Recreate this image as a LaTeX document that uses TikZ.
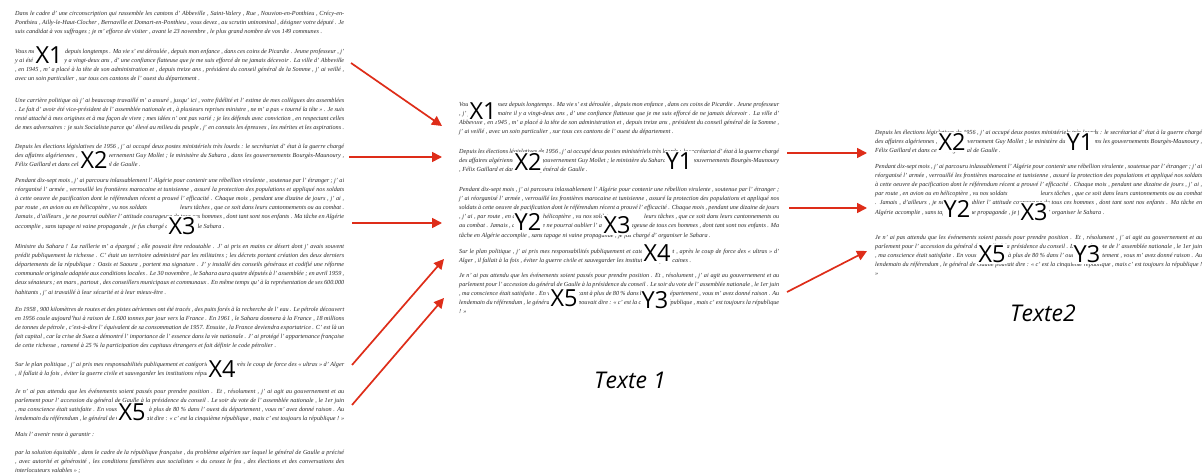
\documentclass[tikz,border=0pt]{standalone}
\usepackage{fontspec}
\setmainfont{Liberation Serif}
\newfontfamily\labfont{Open Sans}
\usetikzlibrary{arrows.meta}
\definecolor{arr}{RGB}{222,45,25}
\tikzset{
  para/.style={anchor=north west, inner sep=0pt, text width=#1, align=justify,
    font=\fontsize{6.2}{9.1}\selectfont\itshape, text=black!85},
  para/.default=329pt,
  lbl/.style={fill=white, inner sep=1.2pt, font=\labfont\fontsize{23.5}{23.5}\selectfont},
  ttl/.style={font=\labfont\itshape\fontsize{23}{23}\selectfont},
  redarrow/.style={draw=arr, line width=1.7pt, -{Triangle[length=10pt,width=10pt]}}
}
\newcommand{\pVous}{Vous me connaissez depuis longtemps . Ma vie s' est déroulée , depuis mon enfance , dans ces coins de Picardie . Jeune professeur , j' y ai été élu maire il y a vingt-deux ans , d' une confiance flatteuse que je me suis efforcé de ne jamais décevoir . La ville d' Abbeville , en 1945 , m' a placé à la tête de son administration et , depuis treize ans , président du conseil général de la Somme , j' ai veillé , avec un soin particulier , sur tous ces cantons de l' ouest du département .}
\newcommand{\pDepuis}{Depuis les élections législatives de 1956 , j' ai occupé deux postes ministériels très lourds : le secrétariat d' état à la guerre chargé des affaires algériennes , dans le gouvernement Guy Mollet ; le ministère du Sahara , dans les gouvernements Bourgès-Maunoury , Félix Gaillard et dans celui du général de Gaulle .}
\newcommand{\pPendant}{Pendant dix-sept mois , j' ai parcouru inlassablement l' Algérie pour contenir une rébellion virulente , soutenue par l' étranger ; j' ai réorganisé l' armée , verrouillé les frontières marocaine et tunisienne , assuré la protection des populations et appliqué nos soldats à cette oeuvre de pacification dont le référendum récent a prouvé l' efficacité . Chaque mois , pendant une dizaine de jours , j' ai , par route , en avion ou en hélicoptère , vu nos soldats \hspace{30pt} leurs tâches , que ce soit dans leurs cantonnements ou au combat . Jamais , d'ailleurs , je ne pourrai oublier l' attitude courageuse de tous ces hommes , dont tant sont nos enfants . Ma tâche en Algérie accomplie , sans tapage ni vaine propagande , je fus chargé d' organiser le Sahara .}
\newcommand{\pSur}{Sur le plan politique , j' ai pris mes responsabilités publiquement et catégoriquement , après le coup de force des « ultras » d' Alger , il fallait à la fois , éviter la guerre civile et sauvegarder les institutions républicaines .}
\newcommand{\pJe}{Je n' ai pas attendu que les événements soient passés pour prendre position . Et , résolument , j' ai agit au gouvernement et au parlement pour l' accession du général de Gaulle à la présidence du conseil . Le soir du vote de l' assemblée nationale , le 1er juin , ma conscience était satisfaite . En vous prononçant à plus de 80 \% dans l' ouest du département , vous m' avez donné raison . Au lendemain du référendum , le général de Gaulle pouvait dire : « c' est la cinquième république , mais c' est toujours la république ! »}
\begin{document}
\begin{tikzpicture}[x=1pt,y=-1pt]
\useasboundingbox (0,0) rectangle (1203,473);
\fill[white] (0,0) rectangle (1203,473);

% ---------- column 1 ----------
\node[para] (c1p1) at (15,11) {Dans le cadre d' une circonscription qui rassemble les cantons d' Abbeville , Saint-Valery , Rue , Nouvion-en-Ponthieu , Crécy-en-Ponthieu , Ailly-le-Haut-Clocher , Bernaville et Domart-en-Ponthieu , vous devez , au scrutin uninominal , désigner votre député . Je suis candidat à vos suffrages ; je m' efforce de visiter , avant le 23 novembre , le plus grand nombre de vos 149 communes .};
\node[para] (c1p2) at (15,49) {\pVous};
\node[para] (c1p3) at (15,98) {Une carrière politique où j' ai beaucoup travaillé m' a assuré , jusqu' ici , votre fidélité et l' estime de mes collègues des assemblées . Le fait d' avoir été vice-président de l' assemblée nationale et , à plusieurs reprises ministre , ne m' a pas « tourné la tête » . Je suis resté attaché à mes origines et à ma façon de vivre ; mes idées n' ont pas varié ; je les défends avec conviction , en respectant celles de mes adversaires : je suis Socialiste parce qu' élevé au milieu du peuple , j' en connais les épreuves , les mérites et les aspirations .};
\node[para] (c1p4) at (15,144) {\pDepuis};
\node[para] (c1p5) at (15,178) {\pPendant};
\node[para] (c1p6) at (15,244) {Ministre du Sahara ! La raillerie m' a épargné ; elle pouvait être redoutable . J' ai pris en mains ce désert dont j' avais souvent prédit publiquement la richesse . C' était un territoire administré par les militaires ; les décrets portant création des deux derniers départements de la république : Oasis et Saoura , portent ma signature . J' y installé des conseils généraux et codifié une réforme communale originale adaptée aux conditions locales . Le 30 novembre , le Sahara aura quatre députés à l' assemblée ; en avril 1959 , deux sénateurs ; en mars , partout , des conseillers municipaux et communaux . En même temps qu' à la représentation de ses 600.000 habitants , j' ai travaillé à leur sécurité et à leur mieux-être .};
\node[para] (c1p7) at (15,307) {En 1958 , 900 kilomètres de routes et des pistes aériennes ont été tracés , des puits forés à la recherche de l' eau . Le pétrole découvert en 1956 coule aujourd'hui à raison de 1.600 tonnes par jour vers la France . En 1961 , le Sahara donnera à la France , 18 millions de tonnes de pétrole , c'est-à-dire l' équivalent de sa consommation de 1957. Ensuite , la France deviendra exportatrice . C' est là un fait capital , car la crise de Suez a démontré l' importance de l' essence dans la vie nationale . J' ai protégé l' appartenance française de cette richesse , ramené à 25 \% la participation des capitaux étrangers et fait définir le code pétrolier .};
\node[para] (c1p8) at (15,362) {\pSur};
\node[para] (c1p9) at (15,389) {\pJe};
\node[para] (c1p10) at (15,432) {Mais l' avenir reste à garantir :};
\node[para] (c1p11) at (15,450) {par la solution équitable , dans le cadre de la république française , du problème algérien sur lequel le général de Gaulle a précisé , avec autorité et générosité , les conditions familières aux socialistes « du cessez le feu , des élections et des conversations des interlocuteurs valables » ;};

\node[lbl] (c1x1) at (49,55) {X1};
\node[lbl] (c1x2) at (94,160) {X2};
\node[lbl] (c1x3) at (182,226) {X3};
\node[lbl] (c1x4) at (222,369) {X4};
\node[lbl] (c1x5) at (132,412) {X5};

% ---------- column 2 ----------
\node[para=320pt] (c2p2) at (459,102) {\pVous};
\node[para=320pt] (c2p4) at (459,149) {\pDepuis};
\node[para=320pt] (c2p5) at (459,187) {\pPendant};
\node[para=320pt] (c2p8) at (459,249) {\pSur};
\node[para=320pt] (c2p9) at (459,273) {\pJe};

\node[lbl] (c2x1) at (483,111) {X1};
\node[lbl] (c2x2) at (528,162) {X2};
\node[lbl] (c2y1) at (679,161) {Y1};
\node[lbl] (c2y2) at (528,222) {Y2};
\node[lbl] (c2x3) at (617,225) {X3};
\node[lbl] (c2x4) at (657,253) {X4};
\node[lbl] (c2x5) at (564,298) {X5};
\node[lbl] (c2y3) at (655,300) {Y3};
\node[ttl] (t1) at (630,380) {Texte 1};

% ---------- column 3 ----------
\node[para=327pt] (c3p4) at (875,130) {\pDepuis};
\node[para=327pt] (c3p5) at (875,164) {\pPendant};
\node[para=327pt] (c3p9) at (875,235) {\pJe};

\node[lbl] (c3x2) at (952,142) {X2};
\node[lbl] (c3y1) at (1080,142) {Y1};
\node[lbl] (c3y2) at (957,209) {Y2};
\node[lbl] (c3x3) at (1034,212) {X3};
\node[lbl] (c3x5) at (992,254) {X5};
\node[lbl] (c3y3) at (1087,254) {Y3};
\node[ttl] (t2) at (1043,313) {Texte2};

% ---------- arrows ----------
\coordinate (a1s) at (351,63);  \coordinate (a1e) at (442,126);
\coordinate (a2s) at (349,157); \coordinate (a2e) at (442,157);
\coordinate (a3s) at (352,223); \coordinate (a3e) at (442,223);
\coordinate (a4s) at (352,365); \coordinate (a4e) at (444,259);
\coordinate (a5s) at (352,405); \coordinate (a5e) at (444,298);
\coordinate (a6s) at (787,153); \coordinate (a6e) at (867,153);
\coordinate (a7s) at (789,208); \coordinate (a7e) at (867,208);
\coordinate (a8s) at (787,292); \coordinate (a8e) at (867,251);
\foreach \i in {1,...,8} \draw[redarrow] (a\i s) -- (a\i e);
\end{tikzpicture}
\end{document}
